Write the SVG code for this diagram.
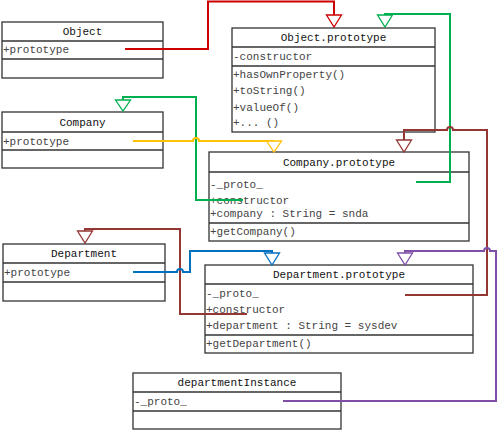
<svg xmlns="http://www.w3.org/2000/svg" width="498" height="430" viewBox="0 0 498 430">
<style>
.box{fill:#fff;stroke:#333;stroke-width:1.3}
.sep{stroke:#333;stroke-width:1.3}
text{font-family:"Liberation Mono","DejaVu Sans Mono",monospace;font-size:11px;fill:#444}
.t{fill:#111;text-anchor:middle}
.c{fill:none;stroke-width:2}
.h{fill:#fff;stroke-width:1.3}
</style>
<rect width="498" height="430" fill="#fff"/>
<g id="object">
<rect class="box" x="2" y="22" width="161" height="56"/>
<line class="sep" x1="2" y1="41" x2="163" y2="41"/>
<line class="sep" x1="2" y1="59" x2="163" y2="59"/>
<text class="t" x="82.5" y="35">Object</text>
<text x="3" y="53">+prototype</text>
</g>
<g id="object-prototype">
<rect class="box" x="232" y="28" width="203" height="104"/>
<line class="sep" x1="232" y1="47" x2="435" y2="47"/>
<line class="sep" x1="232" y1="66" x2="435" y2="66"/>
<text class="t" x="333.5" y="41">Object.prototype</text>
<text x="233" y="60">-constructor</text>
<text x="233" y="78">+hasOwnProperty()</text>
<text x="233" y="94">+toString()</text>
<text x="233" y="111">+valueOf()</text>
<text x="233" y="126">+... ()</text>
</g>
<g id="company">
<rect class="box" x="2" y="112" width="161" height="56"/>
<line class="sep" x1="2" y1="132" x2="163" y2="132"/>
<line class="sep" x1="2" y1="150" x2="163" y2="150"/>
<text class="t" x="82.5" y="126">Company</text>
<text x="3" y="145">+prototype</text>
</g>
<g id="company-prototype">
<rect class="box" x="209" y="152" width="260" height="89"/>
<line class="sep" x1="209" y1="172" x2="469" y2="172"/>
<line class="sep" x1="209" y1="223" x2="469" y2="223"/>
<text class="t" x="339" y="166">Company.prototype</text>
<text x="210" y="188">-_proto_</text>
<text x="210" y="204">+constructor</text>
<text x="210" y="217">+company : String = snda</text>
<text x="210" y="235">+getCompany()</text>
</g>
<g id="department">
<rect class="box" x="3" y="244" width="162" height="57"/>
<line class="sep" x1="3" y1="263" x2="165" y2="263"/>
<line class="sep" x1="3" y1="282" x2="165" y2="282"/>
<text class="t" x="84" y="257">Department</text>
<text x="4" y="276">+prototype</text>
</g>
<g id="department-prototype">
<rect class="box" x="205" y="265" width="268" height="88"/>
<line class="sep" x1="205" y1="284" x2="473" y2="284"/>
<line class="sep" x1="205" y1="335" x2="473" y2="335"/>
<text class="t" x="339" y="278">Department.prototype</text>
<text x="206" y="297">-_proto_</text>
<text x="206" y="313">+constructor</text>
<text x="206" y="329">+department : String = sysdev</text>
<text x="206" y="347">+getDepartment()</text>
</g>
<g id="department-instance">
<rect class="box" x="133" y="373" width="208" height="56"/>
<line class="sep" x1="133" y1="392" x2="341" y2="392"/>
<line class="sep" x1="133" y1="411" x2="341" y2="411"/>
<text class="t" x="237" y="386">departmentInstance</text>
<text x="134" y="405">-_proto_</text>
</g>
<g id="connectors">
<path class="c" stroke="#cc0000" d="M125,49 H208 V1.5 H334 V15"/>
<polygon class="h" stroke="#cc0000" points="326.5,15 341.5,15 334,27"/>
<path class="c" stroke="#00b050" d="M416,182 H450 V14 H385 V15"/>
<polygon class="h" stroke="#00b050" points="377.5,15 392.5,15 385,27"/>
<path class="c" stroke="#00b050" d="M243,200 H196 V97 H123 V100"/>
<polygon class="h" stroke="#00b050" points="115.5,100 130.5,100 123,111"/>
<path class="c" stroke="#ffc000" d="M133,141 H193 A3,3 0 0 1 199,141 H274"/>
<polygon class="h" stroke="#ffc000" points="266.5,141 281.5,141 274,152"/>
<path class="c" stroke="#943634" d="M405,295 H487 V130 H453 A3,3 0 0 0 447,130 H404 V140"/>
<polygon class="h" stroke="#943634" points="396.5,140 411.5,140 404,152"/>
<path class="c" stroke="#943634" d="M247,314 H180 V229 H85 V231"/>
<polygon class="h" stroke="#943634" points="77.5,231 92.5,231 85,243"/>
<path class="c" stroke="#0070c0" d="M133,272 H177 A3,3 0 0 1 183,272 H190 V251 H272 V253"/>
<polygon class="h" stroke="#0070c0" points="264.5,253 279.5,253 272,265"/>
<path class="c" stroke="#7f4fa8" d="M283,401 H496 V251 H490 A3,3 0 0 0 484,251 H405 V253"/>
<polygon class="h" stroke="#7f4fa8" points="397.5,253 412.5,253 405,265"/>
</g>
</svg>
